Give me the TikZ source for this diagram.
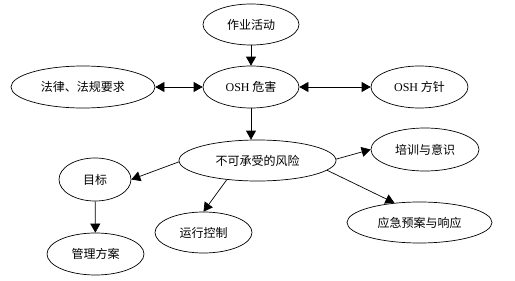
\documentclass[tikz,border=0pt]{standalone}
\usepackage{fontspec}
\setmainfont{Liberation Serif}
\newfontfamily\cjk{Noto Sans CJK SC}
\newfontfamily\lat{Liberation Serif}
\usetikzlibrary{shapes.geometric,arrows.meta}
\tikzset{
  ell/.style={ellipse, draw, line width=0.7pt, inner sep=0pt, font=\cjk\fontsize{12}{14}\selectfont},
  arr/.style={line width=0.7pt, -{Triangle[length=9pt,width=10pt]}},
  darr/.style={line width=0.7pt, {Triangle[length=9pt,width=10pt]}-{Triangle[length=9pt,width=10pt]}}
}
\begin{document}
\begin{tikzpicture}[x=1pt,y=-1pt]
\fill[white] (0,0) rectangle (515,281);
\useasboundingbox (0,0) rectangle (515,281);
\node[ell, minimum width=96pt, minimum height=41pt] (work) at (251,24.5) {作业活动};
\node[ell, minimum width=96pt, minimum height=42pt] (haz) at (251,87) {{\lat OSH} 危害};
\node[ell, minimum width=144pt, minimum height=42pt] (law) at (83,87) {法律、法规要求};
\node[ell, minimum width=97pt, minimum height=42pt] (pol) at (419.5,87) {{\lat OSH} 方针};
\node[ell, minimum width=157pt, minimum height=41pt] (risk) at (257.5,160.5) {不可承受的风险};
\node[ell, minimum width=72pt, minimum height=43pt] (obj) at (95,179.5) {目标};
\node[ell, minimum width=97pt, minimum height=42pt] (prog) at (95.5,254) {管理方案};
\node[ell, minimum width=97pt, minimum height=41pt] (ctrl) at (203.5,232.5) {运行控制};
\node[ell, minimum width=108pt, minimum height=43pt] (train) at (425,149.5) {培训与意识};
\node[ell, minimum width=145pt, minimum height=41pt] (emer) at (419.5,222.5) {应急预案与响应};
\draw[arr] (work) -- (haz);
\draw[darr] (law) -- (haz);
\draw[darr] (haz) -- (pol);
\draw[arr] (haz.south) -- (haz.south |- risk.north);
\draw[arr] (risk.181) -- (obj.0);
\draw[arr] (obj) -- (prog);
\draw[arr] (risk.212) -- (ctrl.90);
\draw[arr] (risk.1) -- (train.180);
\draw[arr] (risk.-8) -- (emer.142);
\end{tikzpicture}
\end{document}
